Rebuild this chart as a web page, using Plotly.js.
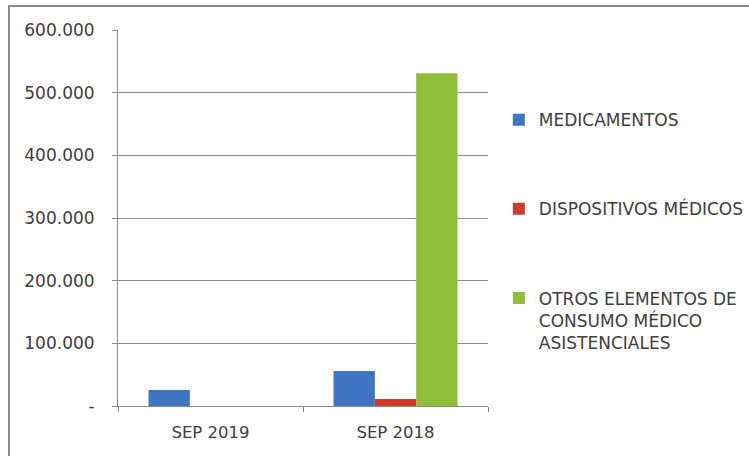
<!DOCTYPE html>
<html><head><meta charset="utf-8">
<script src="https://cdn.plot.ly/plotly-3.0.1.min.js"></script>
<style>
html,body{margin:0;padding:0;background:#fff;}
#wrap{position:relative;width:749px;height:456px;}
#chart{position:absolute;left:0;top:0;width:749px;height:456px;}
#frame{position:absolute;left:8px;top:5px;width:741px;height:451px;border-top:2px solid #8a8a8a;border-left:2px solid #8a8a8a;box-sizing:border-box;pointer-events:none;}
</style></head>
<body><div id="wrap"><div id="chart"></div><div id="frame"></div></div>
<script>
const categories = ["SEP 2019", "SEP 2018"];
const seriesNames = ["MEDICAMENTOS", "DISPOSITIVOS MÉDICOS", "OTROS ELEMENTOS DE<br>CONSUMO MÉDICO<br>ASISTENCIALES"];
const medicamentos = [25500, 56000];
const dispositivos = [0, 11000];
const otros = [0, 531000];
const tickVals = [0, 100000, 200000, 300000, 400000, 500000, 600000];
const tickText = ["-", "100.000", "200.000", "300.000", "400.000", "500.000", "600.000"];

const colors = ["#3f75c2", "#cf3a2e", "#8fbf3a"];
const values = [medicamentos, dispositivos, otros];

const data = values.map((v, i) => ({
  type: "bar", x: categories, y: v, name: seriesNames[i],
  legendgroup: "g" + i,
  marker: {color: colors[i], line: {width: 0}},
  hoverinfo: "skip"
}));

const layout = {
  width: 749, height: 456,
  margin: {l: 118, r: 261, t: 30, b: 50},
  paper_bgcolor: "#ffffff", plot_bgcolor: "#ffffff",
  font: {family: "'DejaVu Sans', sans-serif", size: 16, color: "#404040"},
  barmode: "group", bargap: 0.33, bargroupgap: 0,
  xaxis: {
    showgrid: false, showline: true, linecolor: "#8c8c8c", linewidth: 1,
    ticks: "outside", tickson: "boundaries", ticklen: 5, tickcolor: "#8c8c8c",
    tickfont: {size: 16.5, color: "#404040"}, zeroline: false, ticklabelstandoff: 11
  },
  yaxis: {
    range: [0, 600000], tickvals: tickVals, ticktext: tickText,
    showgrid: true, gridcolor: "#8c8c8c", gridwidth: 1,
    showline: true, linecolor: "#8c8c8c", linewidth: 1,
    ticks: "outside", ticklen: 5, tickcolor: "#8c8c8c",
    zeroline: false, tickfont: {size: 17, color: "#404040"}, ticklabelstandoff: 14
  },
  legend: {
    xref: "container", yref: "container",
    x: 0.666, xanchor: "left", y: 0.776, yanchor: "top",
    font: {size: 17, color: "#404040"},
    tracegroupgap: 64, itemwidth: 30, traceorder: "grouped", valign: "top",
    maxheight: 400,
    bgcolor: "rgba(0,0,0,0)"
  },
  showlegend: true
};
Plotly.newPlot("chart", data, layout, {staticPlot: true, displayModeBar: false});
</script></body></html>
